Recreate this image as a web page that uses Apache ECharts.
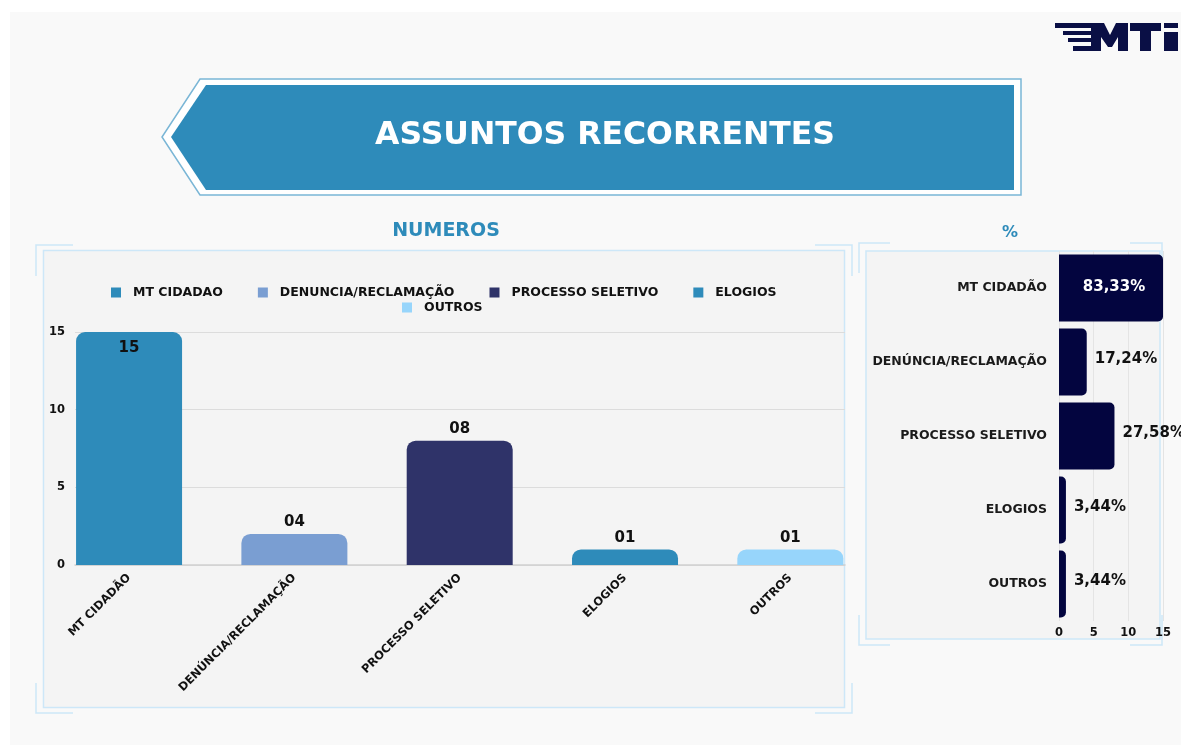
<!DOCTYPE html>
<html>
<head>
<meta charset="utf-8">
<script src="https://cdn.jsdelivr.net/npm/echarts@6/dist/echarts.min.js"></script>
<style>
html,body{margin:0;padding:0;background:#ffffff;}
#c{width:1181px;height:748px;}
</style>
</head>
<body>
<div id="c"></div>
<script>
// ---- data ----
const categories = ['MT CIDADÃO', 'DENÚNCIA/RECLAMAÇÃO', 'PROCESSO SELETIVO', 'ELOGIOS', 'OUTROS'];
const legendNames = ['MT CIDADAO', 'DENUNCIA/RECLAMAÇÃO', 'PROCESSO SELETIVO', 'ELOGIOS', 'OUTROS'];
const countValues = [15, 2, 8, 1, 1];
const countLabels = ['15', '04', '08', '01', '01'];
const pctValues = [15, 4, 8, 1, 1];
const pctLabels = ['83,33%', '17,24%', '27,58%', '3,44%', '3,44%'];
const yTicks = [0, 5, 10, 15];

const barColors = ['#2e8bba', '#7a9ed2', '#2f3369', '#2e8bba', '#97d5fb'];
const FONT = '"DejaVu Sans", "Open Sans", sans-serif';
const frameColor = '#cde7f8';

const chart = echarts.init(document.getElementById('c'));

const leftSeries = legendNames.map((name, i) => ({
  name: name,
  type: 'bar',
  stack: 'cnt',
  xAxisIndex: 1,
  yAxisIndex: 1,
  barWidth: 106,
  z: 3,
  data: countValues.map((v, j) => (j === i ? v : '-')),
  itemStyle: { color: barColors[i], borderRadius: [9, 9, 0, 0] },
  label: {
    show: true,
    position: i === 0 ? 'insideTop' : 'top',
    distance: i === 0 ? 9 : 4,
    formatter: () => countLabels[i],
    color: '#111',
    fontFamily: FONT,
    fontWeight: 700,
    fontSize: 15
  }
}));

function bracket(pts) {
  return { type: 'polyline', z: -5, shape: { points: pts }, style: { stroke: frameColor, lineWidth: 1.5, fill: null } };
}

const legendText = { fontFamily: FONT, fontWeight: 700, fontSize: 12.5, color: '#111', padding: [0, 0, 0, 7] };

const option = {
  animation: false,
  backgroundColor: '#ffffff',
  textStyle: { fontFamily: FONT },
  legend: [
    {
      data: legendNames.slice(0, 4),
      left: 106, top: 281,
      itemWidth: 10, itemHeight: 10, itemGap: 35,
      icon: 'rect',
      textStyle: legendText
    },
    {
      data: [legendNames[4]],
      left: 397, top: 296,
      itemWidth: 10, itemHeight: 10,
      icon: 'rect',
      textStyle: legendText
    }
  ],
  grid: [
    { left: 75, right: 336, top: 332, bottom: 183 },
    { left: 46.4, right: 308, top: 332, bottom: 183 },
    { left: 1059, right: 18, top: 251, bottom: 127 }
  ],
  xAxis: [
    {
      gridIndex: 0, type: 'category', data: categories,
      axisLine: { show: true, lineStyle: { color: '#cfcfcf', width: 1.5 } },
      axisTick: { show: false }, axisLabel: { show: false }, splitLine: { show: false }
    },
    {
      gridIndex: 1, type: 'category', data: categories,
      axisLine: { show: false }, axisTick: { show: false },
      axisLabel: { rotate: 45, margin: 11, interval: 0, color: '#111', fontFamily: FONT, fontWeight: 700, fontSize: 11.5 }
    },
    {
      gridIndex: 2, type: 'value', min: 0, max: 15, interval: 5,
      axisLine: { show: false }, axisTick: { show: false },
      axisLabel: { margin: 6, color: '#111', fontFamily: FONT, fontWeight: 700, fontSize: 11.5 },
      splitLine: { show: true, lineStyle: { color: '#e4e4e4' } }
    }
  ],
  yAxis: [
    {
      gridIndex: 0, type: 'value', min: 0, max: 15, interval: 5,
      axisLine: { show: false }, axisTick: { show: false },
      axisLabel: { margin: 10, color: '#111', fontFamily: FONT, fontWeight: 700, fontSize: 11.5 },
      splitLine: { show: true, lineStyle: { color: '#dcdcdc' } }
    },
    { gridIndex: 1, type: 'value', min: 0, max: 15, show: false },
    {
      gridIndex: 2, type: 'category', data: categories, inverse: true,
      axisLine: { show: false }, axisTick: { show: false },
      axisLabel: { margin: 12, color: '#1a1a1a', fontFamily: FONT, fontWeight: 700, fontSize: 12.5 }
    }
  ],
  series: leftSeries.concat([
    {
      name: '%',
      type: 'bar',
      xAxisIndex: 2,
      yAxisIndex: 2,
      barWidth: 67,
      z: 3,
      data: pctValues.map((v, i) => ({
        value: v,
        label: i === 0
          ? { position: 'inside', color: '#ffffff', offset: [3, -1] }
          : { position: 'right', color: '#111', distance: 8, offset: [0, -3] }
      })),
      itemStyle: { color: '#03053f', borderRadius: [0, 5, 5, 0] },
      label: {
        show: true,
        formatter: (p) => pctLabels[p.dataIndex],
        fontFamily: FONT, fontWeight: 700, fontSize: 15
      }
    }
  ]),
  graphic: [
    // page background
    { type: 'rect', z: -20, shape: { x: 10, y: 12, width: 1171, height: 733 }, style: { fill: '#f9f9f9' } },
    // banner
    { type: 'polygon', z: -10, shape: { points: [[200, 79], [1021, 79], [1021, 195], [200, 195], [162, 137]] },
      style: { fill: '#ffffff', stroke: '#7ab6d6', lineWidth: 1.5 } },
    { type: 'polygon', z: -9, shape: { points: [[206, 85], [1014, 85], [1014, 190], [206, 190], [171, 137]] },
      style: { fill: '#2e8bba' } },
    { type: 'text', z: -8, x: 605, y: 136,
      style: { text: 'ASSUNTOS RECORRENTES', fill: '#ffffff', font: 'bold 31.5px ' + FONT, align: 'center', verticalAlign: 'middle' } },
    // section titles
    { type: 'text', z: -8, x: 446, y: 231,
      style: { text: 'NUMEROS', fill: '#2e8bba', font: 'bold 19px ' + FONT, align: 'center', verticalAlign: 'middle' } },
    { type: 'text', z: -8, x: 1010, y: 233,
      style: { text: '%', fill: '#2e8bba', font: 'bold 16px ' + FONT, align: 'center', verticalAlign: 'middle' } },
    // left panel
    { type: 'rect', z: -6, shape: { x: 43.5, y: 250.5, width: 801, height: 457 },
      style: { fill: '#f4f4f4', stroke: frameColor, lineWidth: 1.5 } },
    bracket([[36, 276], [36, 245], [73, 245]]),
    bracket([[815, 245], [852, 245], [852, 276]]),
    bracket([[36, 683], [36, 713], [73, 713]]),
    bracket([[815, 713], [852, 713], [852, 683]]),
    // right panel
    { type: 'rect', z: -6, shape: { x: 866, y: 251, width: 294, height: 388 },
      style: { fill: '#f4f4f4', stroke: frameColor, lineWidth: 1.5 } },
    bracket([[859, 273], [859, 243], [890, 243]]),
    bracket([[1130, 243], [1162, 243], [1162, 273]]),
    bracket([[859, 615], [859, 645], [890, 645]]),
    bracket([[1130, 645], [1162, 645], [1162, 615]]),
    // logo
    { type: 'rect', z: -8, shape: { x: 1055, y: 23, width: 36, height: 5 }, style: { fill: '#0a0f45' } },
    { type: 'rect', z: -8, shape: { x: 1063, y: 31, width: 28, height: 4 }, style: { fill: '#0a0f45' } },
    { type: 'rect', z: -8, shape: { x: 1068, y: 38, width: 23, height: 4 }, style: { fill: '#0a0f45' } },
    { type: 'rect', z: -8, shape: { x: 1073, y: 46, width: 18, height: 5 }, style: { fill: '#0a0f45' } },
    { type: 'polygon', z: -8, shape: { points: [[1091, 23], [1104, 23], [1110, 35], [1116, 23], [1128, 23], [1128, 51], [1118, 51], [1118, 37], [1112, 47], [1108, 47], [1101, 37], [1101, 51], [1091, 51]] },
      style: { fill: '#0a0f45' } },
    { type: 'rect', z: -8, shape: { x: 1130, y: 23, width: 31, height: 8 }, style: { fill: '#0a0f45' } },
    { type: 'rect', z: -8, shape: { x: 1140, y: 31, width: 11, height: 20 }, style: { fill: '#0a0f45' } },
    { type: 'rect', z: -8, shape: { x: 1164, y: 23, width: 14, height: 5 }, style: { fill: '#0a0f45' } },
    { type: 'rect', z: -8, shape: { x: 1164, y: 32, width: 14, height: 19 }, style: { fill: '#0a0f45' } }
  ]
};

chart.setOption(option);
</script>
</body>
</html>
